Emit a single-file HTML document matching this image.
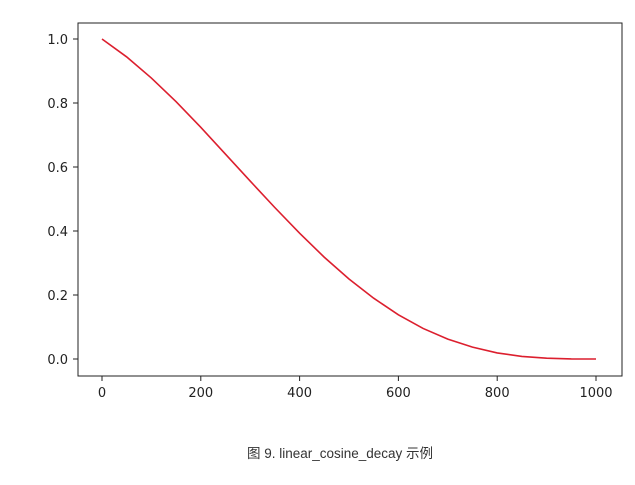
<!DOCTYPE html>
<html><head><meta charset="utf-8"><style>
body{margin:0;background:#fff;width:635px;height:480px;overflow:hidden}
svg text{font-family:"DejaVu Sans","Liberation Sans",sans-serif;fill:#222}
</style></head><body>
<svg width="635" height="480">
<rect x="78" y="23" width="544" height="353" fill="#fff" stroke="#222" stroke-width="1"/>
<g id="ticks"></g>
<path id="line" fill="none" stroke="#dc1f2e" stroke-width="1.6"/>
<text x="340" y="458" text-anchor="middle" font-size="13.5" style="font-family:'Liberation Sans','Noto Sans CJK SC',sans-serif;fill:#333">图 9. linear_cosine_decay 示例</text>
</svg>
<script>
const steps=[0,50,100,150,200,250,300,350,400,450,500,550,600,650,700,750,800,850,900,950,1000];
const values=[1.0,0.944,0.878,0.804,0.724,0.640,0.556,0.473,0.393,0.318,0.25,0.190,0.138,0.0955,0.062,0.037,0.019,0.008,0.0025,0.0003,0];
const xTicks=[0,200,400,600,800,1000];
const yTicks=[0.0,0.2,0.4,0.6,0.8,1.0];
const X=v=>102+v*0.494;
const Y=v=>359-v*320;
const ns="http://www.w3.org/2000/svg";
const g=document.getElementById('ticks');
function mk(t,a){const e=document.createElementNS(ns,t);for(const k in a)e.setAttribute(k,a[k]);g.appendChild(e);return e;}
xTicks.forEach(v=>{
 const l=mk('line',{x1:X(v),x2:X(v),y1:376,y2:381,stroke:'#222'});
 
 
 const t=mk('text',{x:X(v),y:397,'text-anchor':'middle','font-size':'13'});t.textContent=v;
 
 
});
yTicks.forEach(v=>{
 const l=mk('line',{x1:73,x2:78,y1:Y(v),y2:Y(v),stroke:'#222'});
 
 
 const t=mk('text',{x:68,y:Y(v)+5,'text-anchor':'end','font-size':'13'});t.textContent=v.toFixed(1);
 
 
});
document.getElementById('line').setAttribute('d',steps.map((s,i)=>(i?'L':'M')+X(s)+','+Y(values[i])).join(''));
</script>
</body></html>
